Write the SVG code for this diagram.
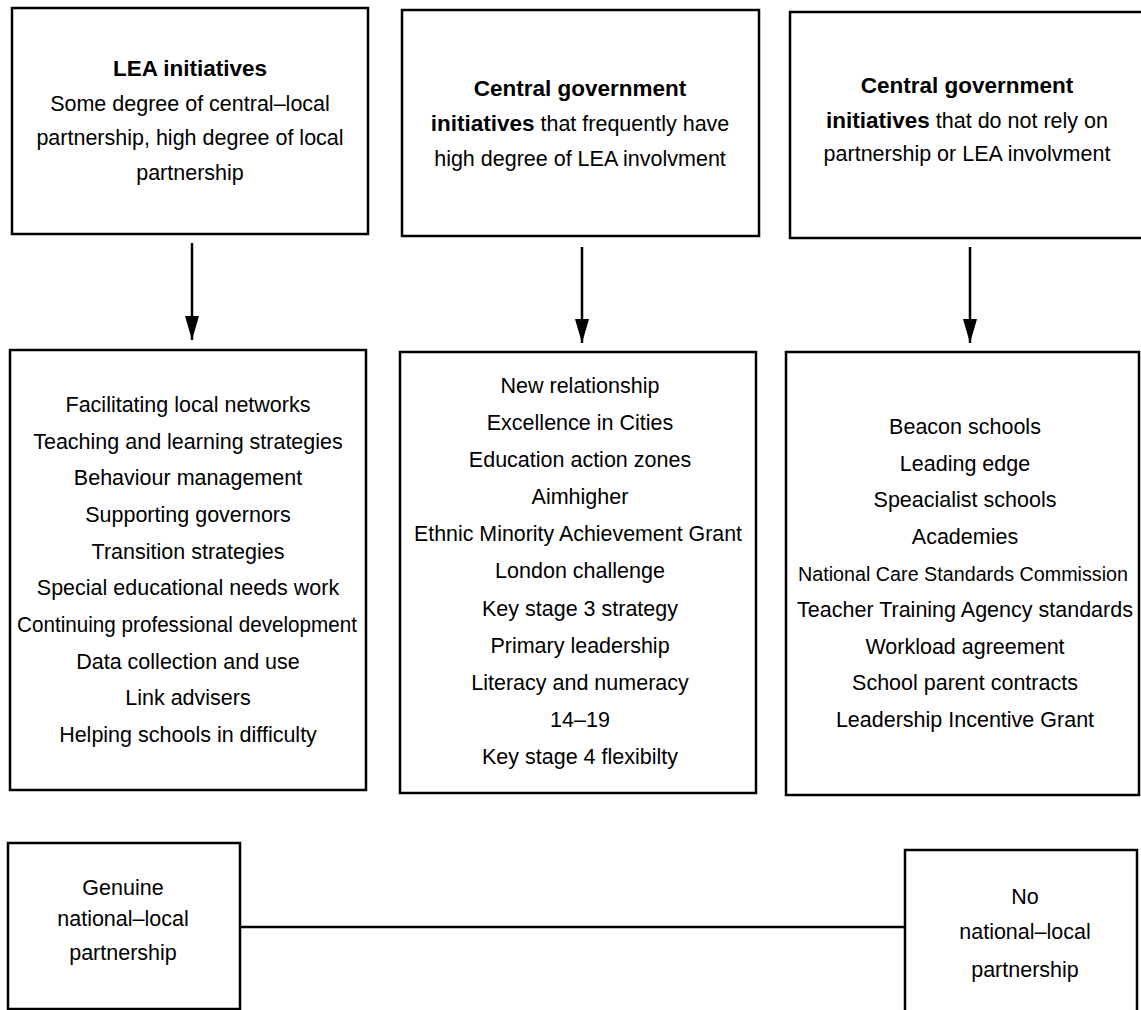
<svg xmlns="http://www.w3.org/2000/svg" width="1141" height="1010" viewBox="0 0 1141 1010">
<style>
.box{fill:#fff;stroke:#000;stroke-width:2.5}
.t{font-family:"Liberation Sans",Arial,sans-serif;font-size:21.5px;text-anchor:middle;fill:#000}
.b{font-weight:bold;font-size:22.5px}
.con{stroke:#000;stroke-width:2.5;fill:none}
</style>
<defs>
<marker id="ah" markerUnits="userSpaceOnUse" markerWidth="24" markerHeight="14" viewBox="0 0 24 14" refX="24" refY="7" orient="auto">
<path d="M0,0 L24,7 L0,14 z" fill="#000"/>
</marker>
</defs>
<rect width="1141" height="1010" fill="#fff"/>
<g id="connectors">
<line class="con" x1="192" y1="243" x2="192" y2="340" marker-end="url(#ah)"/>
<line class="con" x1="582" y1="247" x2="582" y2="343" marker-end="url(#ah)"/>
<line class="con" x1="970" y1="247" x2="970" y2="343" marker-end="url(#ah)"/>
<line class="con" x1="240" y1="927" x2="905" y2="927"/>
</g>
<g id="n1">
<rect class="box" x="12" y="8" width="356" height="226"/>
<text class="t" x="190" y="76"><tspan class="b">LEA initiatives</tspan></text>
<text class="t" x="190" y="111">Some degree of central–local</text>
<text class="t" x="190" y="145">partnership, high degree of local</text>
<text class="t" x="190" y="180">partnership</text>
</g>
<g id="n2">
<rect class="box" x="402" y="10" width="357" height="226"/>
<text class="t" x="580" y="96"><tspan class="b">Central government</tspan></text>
<text class="t" x="580" y="131"><tspan class="b">initiatives</tspan> that frequently have</text>
<text class="t" x="580" y="166">high degree of LEA involvment</text>
</g>
<g id="n3">
<rect class="box" x="790" y="12" width="358" height="226"/>
<text class="t" x="967" y="93"><tspan class="b">Central government</tspan></text>
<text class="t" x="967" y="128"><tspan class="b">initiatives</tspan> that do not rely on</text>
<text class="t" x="967" y="161">partnership or LEA involvment</text>
</g>
<g id="m1">
<rect class="box" x="10" y="350" width="356" height="440"/>
<text class="t" x="188" y="412">Facilitating local networks</text>
<text class="t" x="188" y="449">Teaching and learning strategies</text>
<text class="t" x="188" y="485">Behaviour management</text>
<text class="t" x="188" y="522">Supporting governors</text>
<text class="t" x="188" y="559">Transition strategies</text>
<text class="t" x="188" y="595">Special educational needs work</text>
<text class="t" x="187" y="632" textLength="340" lengthAdjust="spacingAndGlyphs">Continuing professional development</text>
<text class="t" x="188" y="669">Data collection and use</text>
<text class="t" x="188" y="705">Link advisers</text>
<text class="t" x="188" y="742">Helping schools in difficulty</text>
</g>
<g id="m2">
<rect class="box" x="400" y="352" width="356" height="441"/>
<text class="t" x="580" y="393">New relationship</text>
<text class="t" x="580" y="430">Excellence in Cities</text>
<text class="t" x="580" y="467">Education action zones</text>
<text class="t" x="580" y="504">Aimhigher</text>
<text class="t" x="578" y="541" textLength="328" lengthAdjust="spacingAndGlyphs">Ethnic Minority Achievement Grant</text>
<text class="t" x="580" y="578">London challenge</text>
<text class="t" x="580" y="616">Key stage 3 strategy</text>
<text class="t" x="580" y="653">Primary leadership</text>
<text class="t" x="580" y="690">Literacy and numeracy</text>
<text class="t" x="580" y="727">14–19</text>
<text class="t" x="580" y="764">Key stage 4 flexibilty</text>
</g>
<g id="m3">
<rect class="box" x="786" y="352" width="353" height="443"/>
<text class="t" x="965" y="434">Beacon schools</text>
<text class="t" x="965" y="471">Leading edge</text>
<text class="t" x="965" y="507">Speacialist schools</text>
<text class="t" x="965" y="544">Academies</text>
<text class="t" x="963" y="581" style="font-size:20.5px" textLength="330" lengthAdjust="spacingAndGlyphs">National Care Standards Commission</text>
<text class="t" x="965" y="617">Teacher Training Agency standards</text>
<text class="t" x="965" y="654">Workload agreement</text>
<text class="t" x="965" y="690">School parent contracts</text>
<text class="t" x="965" y="727">Leadership Incentive Grant</text>
</g>
<g id="b1">
<rect class="box" x="8" y="843" width="232" height="166"/>
<text class="t" x="123" y="895">Genuine</text>
<text class="t" x="123" y="926">national–local</text>
<text class="t" x="123" y="960">partnership</text>
</g>
<g id="b2">
<rect class="box" x="905" y="850" width="232" height="170"/>
<text class="t" x="1025" y="904">No</text>
<text class="t" x="1025" y="939">national–local</text>
<text class="t" x="1025" y="977">partnership</text>
</g>
</svg>
